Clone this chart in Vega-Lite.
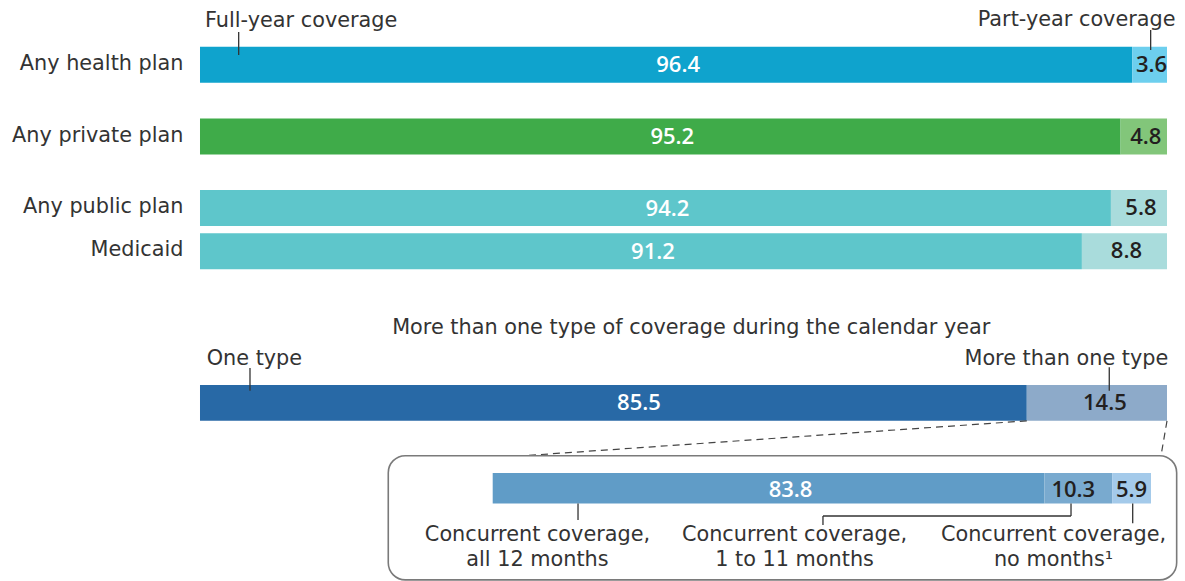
{
"$schema":"https://vega.github.io/schema/vega-lite/v6.json",
"width":1185,"height":581,"padding":0,
"autosize":{"type":"fit","contains":"padding"},
"background":"white",
"config":{"view":{"stroke":null},"axis":{"disable":true},"legend":{"disable":true},
 "text":{"font":"DejaVu Sans","fontSize":20.8,"color":"#333333","baseline":"alphabetic"}},
"datasets":{
 "top":[
  {"row":"Any health plan","segment":"Full-year coverage","value":96.4},
  {"row":"Any health plan","segment":"Part-year coverage","value":3.6},
  {"row":"Any private plan","segment":"Full-year coverage","value":95.2},
  {"row":"Any private plan","segment":"Part-year coverage","value":4.8},
  {"row":"Any public plan","segment":"Full-year coverage","value":94.2},
  {"row":"Any public plan","segment":"Part-year coverage","value":5.8},
  {"row":"Medicaid","segment":"Full-year coverage","value":91.2},
  {"row":"Medicaid","segment":"Part-year coverage","value":8.8}
 ],
 "multi":[
  {"row":"Coverage types","segment":"One type","value":85.5},
  {"row":"Coverage types","segment":"More than one type","value":14.5}
 ],
 "inset":[
  {"row":"Detail of more than one type","segment":"Concurrent coverage, all 12 months","value":83.8},
  {"row":"Detail of more than one type","segment":"Concurrent coverage, 1 to 11 months","value":10.3},
  {"row":"Detail of more than one type","segment":"Concurrent coverage, no months","value":5.9}
 ]
},
"layer":[
 {
  "data":{"name":"top"},
  "layer":[
   {"transform":[{"stack":"value","groupby":["row"],"sort":[{"field":"value","order":"descending"}],"as":["x0","x1"]},{"filter":"datum.x0 < 0.01"}],
    "mark":{"type":"bar","size":36},
    "encoding":{
     "x":{"field":"x0","type":"quantitative","scale":{"domain":[-20.6825,101.8614],"nice":false,"zero":false}},
     "x2":{"field":"x1"},
     "y":{"field":"row","type":"nominal","scale":{"type":"point","domain":["segment labels","g1","g2","Any health plan","g3","g4","g5","g6","Any private plan","g7","g8","g9","g10","Any public plan","g11","g12","Medicaid","g13","g14","g15","g16","g17","g18","g19","g20","g21","g22","g23","g24","g25","g26","g27","g28","g29","g30","g31","g32","g33","g34","g35"],"padding":0.755,"align":1,"round":false}},
     "color":{"field":"row","type":"nominal","scale":{"domain":["Any health plan","Any private plan","Any public plan","Medicaid"],"range":["#0FA3CD","#3FAB49","#5EC6CB","#5EC6CB"]}}}},
   {"transform":[{"stack":"value","groupby":["row"],"sort":[{"field":"value","order":"descending"}],"as":["x0","x1"]},{"filter":"datum.x1 > 99.99"}],
    "mark":{"type":"bar","size":36},
    "encoding":{
     "x":{"field":"x0","type":"quantitative","scale":{"domain":[-20.6825,101.8614],"nice":false,"zero":false}},
     "x2":{"field":"x1"},
     "y":{"field":"row","type":"nominal","scale":{"type":"point","domain":["segment labels","g1","g2","Any health plan","g3","g4","g5","g6","Any private plan","g7","g8","g9","g10","Any public plan","g11","g12","Medicaid","g13","g14","g15","g16","g17","g18","g19","g20","g21","g22","g23","g24","g25","g26","g27","g28","g29","g30","g31","g32","g33","g34","g35"],"padding":0.755,"align":1,"round":false}},
     "color":{"field":"row","type":"nominal","scale":{"domain":["Any health plan","Any private plan","Any public plan","Medicaid"],"range":["#6DCFEE","#82C67A","#A9DCDC","#A9DCDC"]}}}},
   {"transform":[{"stack":"value","groupby":["row"],"sort":[{"field":"value","order":"descending"}],"as":["x0","x1"]},{"filter":"datum.x0 < 0.01"}],
    "mark":{"type":"text","align":"right","dx":-16.5,"dy":5.3},
    "encoding":{
     "x":{"datum":0,"type":"quantitative","scale":{"domain":[-20.6825,101.8614],"nice":false,"zero":false}},
     "y":{"field":"row","type":"nominal","scale":{"type":"point","domain":["segment labels","g1","g2","Any health plan","g3","g4","g5","g6","Any private plan","g7","g8","g9","g10","Any public plan","g11","g12","Medicaid","g13","g14","g15","g16","g17","g18","g19","g20","g21","g22","g23","g24","g25","g26","g27","g28","g29","g30","g31","g32","g33","g34","g35"],"padding":0.755,"align":1,"round":false}},
     "text":{"field":"row"}}},
   {"transform":[{"stack":"value","groupby":["row"],"sort":[{"field":"value","order":"descending"}],"as":["x0","x1"]},{"filter":"datum.x0 < 0.01"}],
    "mark":{"type":"text","align":"center","dx":12,"dy":7.7,"font":"Open Sans","fontSize":22,"fontWeight":600,"color":"#FFFFFF"},
    "encoding":{
     "x":{"field":"x1","type":"quantitative","scale":{"domain":[-41.365,203.7229],"nice":false,"zero":false}},
     "y":{"field":"row","type":"nominal","scale":{"type":"point","domain":["segment labels","g1","g2","Any health plan","g3","g4","g5","g6","Any private plan","g7","g8","g9","g10","Any public plan","g11","g12","Medicaid","g13","g14","g15","g16","g17","g18","g19","g20","g21","g22","g23","g24","g25","g26","g27","g28","g29","g30","g31","g32","g33","g34","g35"],"padding":0.755,"align":1,"round":false}},
     "text":{"field":"value","type":"quantitative","format":".1f"}}},
   {"transform":[{"stack":"value","groupby":["row"],"sort":[{"field":"value","order":"descending"}],"as":["x0","x1"]},{"filter":"datum.x1 > 99.99"}],
    "mark":{"type":"text","align":"center","dx":2,"dy":7.3,"font":"Open Sans","fontSize":22,"fontWeight":600,"color":"#231F20"},
    "encoding":{
     "x":{"field":"x0","type":"quantitative","scale":{"domain":[-141.365,103.7229],"nice":false,"zero":false}},
     "y":{"field":"row","type":"nominal","scale":{"type":"point","domain":["segment labels","g1","g2","Any health plan","g3","g4","g5","g6","Any private plan","g7","g8","g9","g10","Any public plan","g11","g12","Medicaid","g13","g14","g15","g16","g17","g18","g19","g20","g21","g22","g23","g24","g25","g26","g27","g28","g29","g30","g31","g32","g33","g34","g35"],"padding":0.755,"align":1,"round":false}},
     "text":{"field":"value","type":"quantitative","format":".1f"}}},
   {"data":{"values":[{}]},
    "mark":{"type":"text","align":"left","dy":5},
    "encoding":{
     "x":{"datum":0.52,"type":"quantitative","scale":{"domain":[-20.6825,101.8614],"nice":false,"zero":false}},
     "y":{"datum":"segment labels","type":"nominal","scale":{"type":"point","domain":["segment labels","g1","g2","Any health plan","g3","g4","g5","g6","Any private plan","g7","g8","g9","g10","Any public plan","g11","g12","Medicaid","g13","g14","g15","g16","g17","g18","g19","g20","g21","g22","g23","g24","g25","g26","g27","g28","g29","g30","g31","g32","g33","g34","g35"],"padding":0.755,"align":1,"round":false}},
     "text":{"value":"Full-year coverage"}}},
   {"data":{"values":[{}]},
    "mark":{"type":"text","align":"right","dy":4},
    "encoding":{
     "x":{"datum":100.88,"type":"quantitative","scale":{"domain":[-20.6825,101.8614],"nice":false,"zero":false}},
     "y":{"datum":"segment labels","type":"nominal","scale":{"type":"point","domain":["segment labels","g1","g2","Any health plan","g3","g4","g5","g6","Any private plan","g7","g8","g9","g10","Any public plan","g11","g12","Medicaid","g13","g14","g15","g16","g17","g18","g19","g20","g21","g22","g23","g24","g25","g26","g27","g28","g29","g30","g31","g32","g33","g34","g35"],"padding":0.755,"align":1,"round":false}},
     "text":{"value":"Part-year coverage"}}},
   {"data":{"values":[{}]},
    "mark":{"type":"rule","color":"#333333","strokeWidth":1.3,"yOffset":10.3,"y2Offset":-9.7},
    "encoding":{
     "x":{"datum":4.0,"type":"quantitative","scale":{"domain":[-20.6825,101.8614],"nice":false,"zero":false}},
     "y":{"datum":"segment labels","type":"nominal","scale":{"type":"point","domain":["segment labels","g1","g2","Any health plan","g3","g4","g5","g6","Any private plan","g7","g8","g9","g10","Any public plan","g11","g12","Medicaid","g13","g14","g15","g16","g17","g18","g19","g20","g21","g22","g23","g24","g25","g26","g27","g28","g29","g30","g31","g32","g33","g34","g35"],"padding":0.755,"align":1,"round":false}},
     "y2":{"datum":"Any health plan"}}},
   {"data":{"values":[{}]},
    "mark":{"type":"rule","color":"#333333","strokeWidth":1.3,"yOffset":8.3,"y2Offset":-14.7},
    "encoding":{
     "x":{"datum":98.31,"type":"quantitative","scale":{"domain":[-20.6825,101.8614],"nice":false,"zero":false}},
     "y":{"datum":"segment labels","type":"nominal","scale":{"type":"point","domain":["segment labels","g1","g2","Any health plan","g3","g4","g5","g6","Any private plan","g7","g8","g9","g10","Any public plan","g11","g12","Medicaid","g13","g14","g15","g16","g17","g18","g19","g20","g21","g22","g23","g24","g25","g26","g27","g28","g29","g30","g31","g32","g33","g34","g35"],"padding":0.755,"align":1,"round":false}},
     "y2":{"datum":"Any health plan"}}}
  ],
  "resolve":{"scale":{"x":"independent","color":"independent"}}
 },
 {
  "layer":[
   {"data":{"name":"multi"},
    "transform":[{"stack":"value","groupby":["row"],"sort":[{"field":"value","order":"descending"}],"as":["x0","x1"]}],
    "mark":{"type":"bar","size":35.7},
    "encoding":{
     "x":{"field":"x0","type":"quantitative","scale":{"domain":[-20.6825,101.8614],"nice":false,"zero":false}},
     "x2":{"field":"x1"},
     "y":{"field":"row","type":"nominal","scale":{"type":"point","domain":["s1","s2","s3","s4","s5","s6","s7","heading","type labels","Coverage types","connector","Detail of more than one type","inset labels"],"padding":0.8033,"align":0.2704,"round":false}},
     "color":{"field":"segment","type":"nominal","scale":{"domain":["One type","More than one type"],"range":["#2869A6","#8DAAC9"]}}}},
   {"data":{"name":"multi"},
    "transform":[{"stack":"value","groupby":["row"],"sort":[{"field":"value","order":"descending"}],"as":["x0","x1"]},{"filter":"datum.x0 < 0.01"}],
    "mark":{"type":"text","align":"center","dx":25.6,"dy":6.8,"font":"Open Sans","fontSize":22,"fontWeight":600,"color":"#FFFFFF"},
    "encoding":{
     "x":{"field":"x1","type":"quantitative","scale":{"domain":[-41.365,203.7229],"nice":false,"zero":false}},
     "y":{"field":"row","type":"nominal","scale":{"type":"point","domain":["s1","s2","s3","s4","s5","s6","s7","heading","type labels","Coverage types","connector","Detail of more than one type","inset labels"],"padding":0.8033,"align":0.2704,"round":false}},
     "text":{"field":"value","type":"quantitative","format":".1f"}}},
   {"data":{"name":"multi"},
    "transform":[{"stack":"value","groupby":["row"],"sort":[{"field":"value","order":"descending"}],"as":["x0","x1"]},{"filter":"datum.x1 > 99.99"}],
    "mark":{"type":"text","align":"center","dx":8,"dy":7.2,"font":"Open Sans","fontSize":22,"fontWeight":600,"color":"#231F20"},
    "encoding":{
     "x":{"field":"x0","type":"quantitative","scale":{"domain":[-141.365,103.7229],"nice":false,"zero":false}},
     "y":{"field":"row","type":"nominal","scale":{"type":"point","domain":["s1","s2","s3","s4","s5","s6","s7","heading","type labels","Coverage types","connector","Detail of more than one type","inset labels"],"padding":0.8033,"align":0.2704,"round":false}},
     "text":{"field":"value","type":"quantitative","format":".1f"}}},
   {"data":{"name":"inset"},
    "transform":[{"stack":"value","groupby":["row"],"sort":[{"field":"value","order":"descending"}],"as":["x0","x1"]}],
    "mark":{"type":"bar","size":30.5},
    "encoding":{
     "x":{"field":"x0","type":"quantitative","scale":{"domain":[-74.845,105.165],"nice":false,"zero":false}},
     "x2":{"field":"x1"},
     "y":{"field":"row","type":"nominal","scale":{"type":"point","domain":["s1","s2","s3","s4","s5","s6","s7","heading","type labels","Coverage types","connector","Detail of more than one type","inset labels"],"padding":0.8033,"align":0.2704,"round":false}},
     "color":{"field":"segment","type":"nominal","scale":{"domain":["Concurrent coverage, all 12 months","Concurrent coverage, 1 to 11 months","Concurrent coverage, no months"],"range":["#609CC7","#79AACF","#A4CAEA"]}}}},
   {"data":{"name":"inset"},
    "transform":[{"stack":"value","groupby":["row"],"sort":[{"field":"value","order":"descending"}],"as":["x0","x1"]},{"filter":"datum.x0 < 0.01"}],
    "mark":{"type":"text","align":"center","dx":22,"dy":8.75,"font":"Open Sans","fontSize":22,"fontWeight":600,"color":"#FFFFFF"},
    "encoding":{
     "x":{"field":"x1","type":"quantitative","scale":{"domain":[-149.69,210.33],"nice":false,"zero":false}},
     "y":{"field":"row","type":"nominal","scale":{"type":"point","domain":["s1","s2","s3","s4","s5","s6","s7","heading","type labels","Coverage types","connector","Detail of more than one type","inset labels"],"padding":0.8033,"align":0.2704,"round":false}},
     "text":{"field":"value","type":"quantitative","format":".1f"}}},
   {"data":{"name":"inset"},
    "transform":[{"stack":"value","groupby":["row"],"sort":[{"field":"value","order":"descending"}],"as":["x0","x1"]},{"filter":"datum.x1 > 99.99"}],
    "mark":{"type":"text","align":"center","dx":0,"dy":8.75,"font":"Open Sans","fontSize":22,"fontWeight":600,"color":"#231F20"},
    "encoding":{
     "x":{"field":"x0","type":"quantitative","scale":{"domain":[-249.69,110.33],"nice":false,"zero":false}},
     "y":{"field":"row","type":"nominal","scale":{"type":"point","domain":["s1","s2","s3","s4","s5","s6","s7","heading","type labels","Coverage types","connector","Detail of more than one type","inset labels"],"padding":0.8033,"align":0.2704,"round":false}},
     "text":{"field":"value","type":"quantitative","format":".1f"}}},
   {"data":{"name":"inset"},
    "transform":[{"stack":"value","groupby":["row"],"sort":[{"field":"value","order":"descending"}],"as":["x0","x1"]},{"filter":"datum.x0 > 0.01 && datum.x1 < 99.99"}],
    "mark":{"type":"text","align":"right","dx":-17,"dy":8.75,"font":"Open Sans","fontSize":22,"fontWeight":600,"color":"#231F20"},
    "encoding":{
     "x":{"field":"x1","type":"quantitative","scale":{"domain":[-74.845,105.165],"nice":false,"zero":false}},
     "y":{"field":"row","type":"nominal","scale":{"type":"point","domain":["s1","s2","s3","s4","s5","s6","s7","heading","type labels","Coverage types","connector","Detail of more than one type","inset labels"],"padding":0.8033,"align":0.2704,"round":false}},
     "text":{"field":"value","type":"quantitative","format":".1f"}}},
   {"data":{"values":[{}]},
    "mark":{"type":"text","align":"center","dy":16.85},
    "encoding":{
     "x":{"datum":50.8,"type":"quantitative","scale":{"domain":[-20.6825,101.8614],"nice":false,"zero":false}},
     "y":{"datum":"heading","type":"nominal","scale":{"type":"point","domain":["s1","s2","s3","s4","s5","s6","s7","heading","type labels","Coverage types","connector","Detail of more than one type","inset labels"],"padding":0.8033,"align":0.2704,"round":false}},
     "text":{"value":"More than one type of coverage during the calendar year"}}},
   {"data":{"values":[{}]},
    "mark":{"type":"text","align":"left","dy":4.85},
    "encoding":{
     "x":{"datum":0.69,"type":"quantitative","scale":{"domain":[-20.6825,101.8614],"nice":false,"zero":false}},
     "y":{"datum":"type labels","type":"nominal","scale":{"type":"point","domain":["s1","s2","s3","s4","s5","s6","s7","heading","type labels","Coverage types","connector","Detail of more than one type","inset labels"],"padding":0.8033,"align":0.2704,"round":false}},
     "text":{"value":"One type"}}},
   {"data":{"values":[{}]},
    "mark":{"type":"text","align":"right","dy":4.85},
    "encoding":{
     "x":{"datum":100.13,"type":"quantitative","scale":{"domain":[-20.6825,101.8614],"nice":false,"zero":false}},
     "y":{"datum":"type labels","type":"nominal","scale":{"type":"point","domain":["s1","s2","s3","s4","s5","s6","s7","heading","type labels","Coverage types","connector","Detail of more than one type","inset labels"],"padding":0.8033,"align":0.2704,"round":false}},
     "text":{"value":"More than one type"}}},
   {"data":{"values":[{}]},
    "mark":{"type":"rule","color":"#333333","strokeWidth":1.3,"yOffset":7.85,"y2Offset":-12.15},
    "encoding":{
     "x":{"datum":5.17,"type":"quantitative","scale":{"domain":[-20.6825,101.8614],"nice":false,"zero":false}},
     "y":{"datum":"type labels","type":"nominal","scale":{"type":"point","domain":["s1","s2","s3","s4","s5","s6","s7","heading","type labels","Coverage types","connector","Detail of more than one type","inset labels"],"padding":0.8033,"align":0.2704,"round":false}},
     "y2":{"datum":"Coverage types"}}},
   {"data":{"values":[{}]},
    "mark":{"type":"rule","color":"#333333","strokeWidth":1.3,"yOffset":7.15,"y2Offset":-12.15},
    "encoding":{
     "x":{"datum":94.03,"type":"quantitative","scale":{"domain":[-20.6825,101.8614],"nice":false,"zero":false}},
     "y":{"datum":"type labels","type":"nominal","scale":{"type":"point","domain":["s1","s2","s3","s4","s5","s6","s7","heading","type labels","Coverage types","connector","Detail of more than one type","inset labels"],"padding":0.8033,"align":0.2704,"round":false}},
     "y2":{"datum":"Coverage types"}}},
   {"data":{"values":[{}]},
    "mark":{"type":"rule","color":"#444444","strokeWidth":1.2,"strokeDash":[7,5],"yOffset":18,"y2Offset":10.15},
    "encoding":{
     "x":{"datum":85.5,"type":"quantitative","scale":{"domain":[-20.6825,101.8614],"nice":false,"zero":false}},
     "x2":{"datum":33.5},
     "y":{"datum":"Coverage types","type":"nominal","scale":{"type":"point","domain":["s1","s2","s3","s4","s5","s6","s7","heading","type labels","Coverage types","connector","Detail of more than one type","inset labels"],"padding":0.8033,"align":0.2704,"round":false}},
     "y2":{"datum":"connector"}}},
   {"data":{"values":[{}]},
    "mark":{"type":"rule","color":"#444444","strokeWidth":1.2,"strokeDash":[7,5],"yOffset":18,"y2Offset":10.15},
    "encoding":{
     "x":{"datum":100,"type":"quantitative","scale":{"domain":[-20.6825,101.8614],"nice":false,"zero":false}},
     "x2":{"datum":99.38},
     "y":{"datum":"Coverage types","type":"nominal","scale":{"type":"point","domain":["s1","s2","s3","s4","s5","s6","s7","heading","type labels","Coverage types","connector","Detail of more than one type","inset labels"],"padding":0.8033,"align":0.2704,"round":false}},
     "y2":{"datum":"connector"}}},
   {"data":{"values":[{}]},
    "mark":{"type":"rect","filled":false,"stroke":"#7A7A7A","strokeWidth":1.6,"cornerRadius":17,"yOffset":10.15,"y2Offset":48.9},
    "encoding":{
     "x":{"datum":19.47,"type":"quantitative","scale":{"domain":[-20.6825,101.8614],"nice":false,"zero":false}},
     "x2":{"datum":101.0},
     "y":{"datum":"connector","type":"nominal","scale":{"type":"point","domain":["s1","s2","s3","s4","s5","s6","s7","heading","type labels","Coverage types","connector","Detail of more than one type","inset labels"],"padding":0.8033,"align":0.2704,"round":false}},
     "y2":{"datum":"inset labels"}}},
   {"data":{"values":[{}]},
    "mark":{"type":"text","align":"center","dy":10.05,"lineHeight":25},
    "encoding":{
     "x":{"datum":6.8,"type":"quantitative","scale":{"domain":[-74.845,105.165],"nice":false,"zero":false}},
     "y":{"datum":"inset labels","type":"nominal","scale":{"type":"point","domain":["s1","s2","s3","s4","s5","s6","s7","heading","type labels","Coverage types","connector","Detail of more than one type","inset labels"],"padding":0.8033,"align":0.2704,"round":false}},
     "text":{"value":["Concurrent coverage,","all 12 months"]}}},
   {"data":{"values":[{}]},
    "mark":{"type":"text","align":"center","dy":10.05,"lineHeight":25},
    "encoding":{
     "x":{"datum":45.85,"type":"quantitative","scale":{"domain":[-74.845,105.165],"nice":false,"zero":false}},
     "y":{"datum":"inset labels","type":"nominal","scale":{"type":"point","domain":["s1","s2","s3","s4","s5","s6","s7","heading","type labels","Coverage types","connector","Detail of more than one type","inset labels"],"padding":0.8033,"align":0.2704,"round":false}},
     "text":{"value":["Concurrent coverage,","1 to 11 months"]}}},
   {"data":{"values":[{}]},
    "mark":{"type":"text","align":"center","dy":10.05,"lineHeight":25},
    "encoding":{
     "x":{"datum":85.19,"type":"quantitative","scale":{"domain":[-74.845,105.165],"nice":false,"zero":false}},
     "y":{"datum":"inset labels","type":"nominal","scale":{"type":"point","domain":["s1","s2","s3","s4","s5","s6","s7","heading","type labels","Coverage types","connector","Detail of more than one type","inset labels"],"padding":0.8033,"align":0.2704,"round":false}},
     "text":{"value":["Concurrent coverage,","no months¹"]}}},
   {"data":{"values":[{}]},
    "mark":{"type":"rule","color":"#333333","strokeWidth":1.3,"yOffset":15.25,"y2Offset":-10.95},
    "encoding":{
     "x":{"datum":12.96,"type":"quantitative","scale":{"domain":[-74.845,105.165],"nice":false,"zero":false}},
     "y":{"datum":"Detail of more than one type","type":"nominal","scale":{"type":"point","domain":["s1","s2","s3","s4","s5","s6","s7","heading","type labels","Coverage types","connector","Detail of more than one type","inset labels"],"padding":0.8033,"align":0.2704,"round":false}},
     "y2":{"datum":"inset labels"}}},
   {"data":{"values":[{}]},
    "mark":{"type":"rule","color":"#333333","strokeWidth":1.3,"yOffset":15.25,"y2Offset":-14.95},
    "encoding":{
     "x":{"datum":87.85,"type":"quantitative","scale":{"domain":[-74.845,105.165],"nice":false,"zero":false}},
     "y":{"datum":"Detail of more than one type","type":"nominal","scale":{"type":"point","domain":["s1","s2","s3","s4","s5","s6","s7","heading","type labels","Coverage types","connector","Detail of more than one type","inset labels"],"padding":0.8033,"align":0.2704,"round":false}},
     "y2":{"datum":"inset labels"}}},
   {"data":{"values":[{}]},
    "mark":{"type":"rule","color":"#333333","strokeWidth":1.3,"yOffset":-14.95},
    "encoding":{
     "x":{"datum":50.17,"type":"quantitative","scale":{"domain":[-74.845,105.165],"nice":false,"zero":false}},
     "x2":{"datum":87.85},
     "y":{"datum":"inset labels","type":"nominal","scale":{"type":"point","domain":["s1","s2","s3","s4","s5","s6","s7","heading","type labels","Coverage types","connector","Detail of more than one type","inset labels"],"padding":0.8033,"align":0.2704,"round":false}}}},
   {"data":{"values":[{}]},
    "mark":{"type":"rule","color":"#333333","strokeWidth":1.3,"yOffset":-14.95,"y2Offset":-5.95},
    "encoding":{
     "x":{"datum":50.17,"type":"quantitative","scale":{"domain":[-74.845,105.165],"nice":false,"zero":false}},
     "y":{"datum":"inset labels","type":"nominal","scale":{"type":"point","domain":["s1","s2","s3","s4","s5","s6","s7","heading","type labels","Coverage types","connector","Detail of more than one type","inset labels"],"padding":0.8033,"align":0.2704,"round":false}},
     "y2":{"datum":"inset labels"}}},
   {"data":{"values":[{}]},
    "mark":{"type":"rule","color":"#333333","strokeWidth":1.3,"yOffset":15.25,"y2Offset":-7.65},
    "encoding":{
     "x":{"datum":97.22,"type":"quantitative","scale":{"domain":[-74.845,105.165],"nice":false,"zero":false}},
     "y":{"datum":"Detail of more than one type","type":"nominal","scale":{"type":"point","domain":["s1","s2","s3","s4","s5","s6","s7","heading","type labels","Coverage types","connector","Detail of more than one type","inset labels"],"padding":0.8033,"align":0.2704,"round":false}},
     "y2":{"datum":"inset labels"}}}
  ],
  "resolve":{"scale":{"x":"independent","color":"independent"}}
 }
],
"resolve":{"scale":{"x":"independent","y":"independent","color":"independent"}}
}
